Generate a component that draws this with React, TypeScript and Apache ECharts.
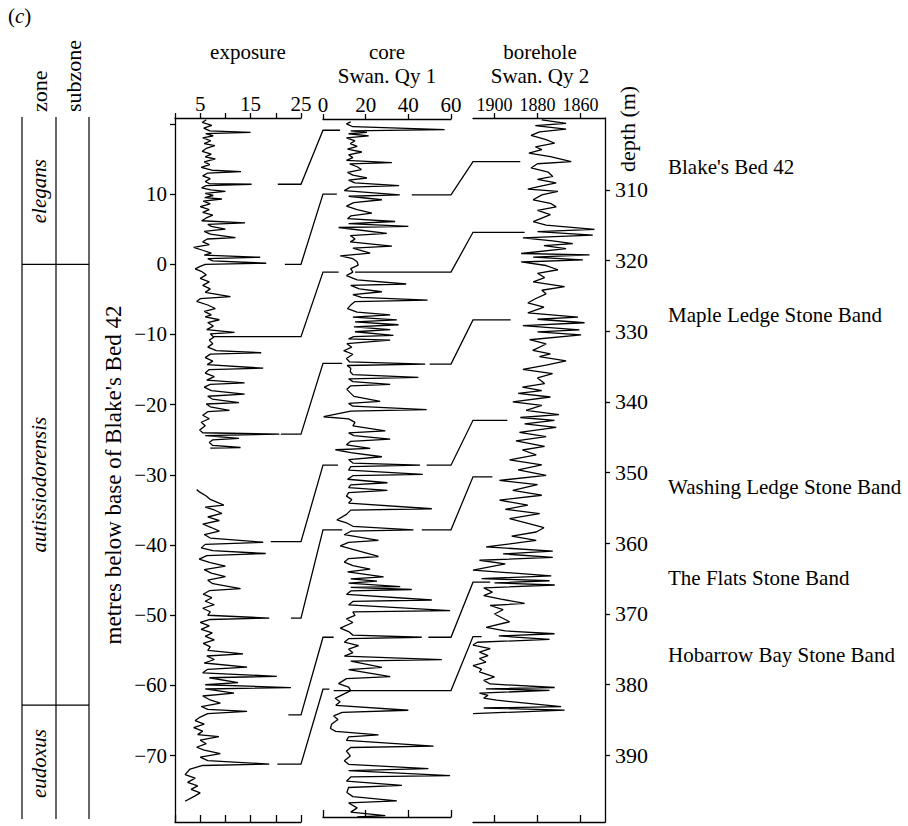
import React, { useEffect, useRef } from 'react';
import * as echarts from 'echarts';

const FONT = '"Liberation Serif", "Times New Roman", serif';
const INK = '#000';

// ---- axis extents (metres below base of Blake's Bed 42 / borehole depth) ----
const metreTop = 20.84;
const metreBottom = -79.45;
const coreMetreTop = 20.7;
const coreMetreBottom = -78.7;
const depthTop = 299.83;
const depthBottom = 399.43;

// ---- tick values ----
const exposureTicks = [0, 5, 10, 15, 20, 25];
const exposureLabels = [5, 15, 25];
const coreTicks = [0, 20, 40, 60];
const boreholeTicks = [1900, 1880, 1860];
const metreTicks = [-70, -60, -50, -40, -30, -20, -10, 0, 10, 20];
const metreLabels = [-70, -60, -50, -40, -30, -20, -10, 0, 10];
const depthTicks = [310, 320, 330, 340, 350, 360, 370, 380, 390];

// ---- exposure log: [value, metres] ----
const exposureUpper: number[][] = [
  [6.2, 20.6], [5.4, 20.2], [7.3, 19.8], [5.7, 19.4], [6.9, 19.0], [15.0, 18.8], [6.1, 18.6], [7.6, 18.3],
  [5.5, 18.0], [7.1, 17.6], [5.8, 17.2], [7.9, 16.9], [6.2, 16.5], [5.4, 16.1], [7.2, 15.7], [6.0, 15.3],
  [8.0, 15.0], [5.8, 14.6], [6.9, 14.2], [5.2, 13.8], [7.3, 13.4], [13.1, 13.2], [6.5, 13.0], [5.5, 12.6],
  [7.0, 12.2], [6.0, 11.8], [6.8, 11.5], [15.2, 11.4], [6.2, 11.2], [5.3, 10.9], [7.1, 10.6], [10.0, 10.4],
  [6.0, 10.1], [7.6, 9.8], [5.9, 9.5], [9.3, 9.3], [5.6, 9.0], [7.0, 8.6], [5.0, 8.2], [6.8, 7.8],
  [5.5, 7.4], [7.5, 7.0], [6.2, 6.6], [5.3, 6.2], [13.9, 5.9], [6.5, 5.7], [7.2, 5.4], [10.0, 5.0],
  [5.8, 4.7], [7.0, 4.3], [12.0, 3.8], [6.4, 3.6], [5.5, 3.2], [6.8, 2.8], [3.7, 2.4], [5.5, 2.0],
  [7.2, 1.6], [5.8, 1.3], [16.9, 1.0], [6.5, 0.8], [7.5, 0.5], [18.1, 0.15], [6.0, 0.0], [5.0, -0.3],
  [4.0, -0.65], [5.2, -1.0], [6.2, -1.5], [5.0, -2.0], [6.8, -2.5], [5.5, -3.0], [7.0, -3.5], [6.0, -4.0],
  [11.0, -4.6], [5.0, -4.9], [4.3, -5.3], [6.5, -5.8], [8.0, -6.3], [5.8, -6.7], [7.2, -7.2], [6.0, -7.5],
  [8.8, -7.9], [6.5, -8.3], [7.6, -8.8], [6.3, -9.3], [11.8, -9.7], [7.0, -9.9], [7.7, -10.4], [6.8, -10.8],
  [7.5, -11.3], [6.5, -11.8], [8.2, -12.3], [17.1, -12.6], [7.0, -12.8], [6.0, -13.3], [7.5, -13.8], [6.4, -14.3],
  [17.5, -14.8], [6.8, -15.0], [6.0, -15.5], [7.8, -16.0], [6.3, -16.5], [13.8, -16.9], [7.0, -17.1], [5.8, -17.5],
  [7.2, -18.0], [13.8, -18.5], [6.5, -18.8], [7.4, -19.2], [12.7, -19.7], [6.2, -19.9], [7.0, -20.3], [10.8, -20.8],
  [6.5, -21.0], [5.5, -21.5], [6.8, -22.0], [5.2, -22.5], [6.0, -23.0], [4.9, -23.6], [5.5, -24.0], [20.7, -24.2],
  [6.0, -24.4], [12.7, -24.8], [7.5, -25.0], [6.8, -25.4], [7.5, -25.8], [13.0, -26.1], [7.0, -26.2],
];

const exposureLower: number[][] = [
  [4.3, -32.1], [5.0, -32.5], [6.2, -33.0], [7.0, -33.5], [9.7, -34.3], [6.0, -34.6], [7.8, -35.0], [9.3, -35.5],
  [6.5, -36.0], [8.8, -36.5], [5.5, -37.0], [7.2, -37.5], [8.8, -38.0], [5.8, -38.5], [7.0, -39.0], [17.5, -39.6],
  [6.0, -39.9], [5.2, -40.4], [7.5, -40.8], [18.0, -41.2], [6.3, -41.5], [4.8, -42.0], [7.0, -42.5], [10.0, -43.0],
  [5.8, -43.5], [7.2, -44.0], [10.0, -44.5], [6.5, -45.0], [7.5, -45.5], [13.0, -46.2], [6.8, -46.5], [5.6, -47.0],
  [7.3, -47.5], [6.0, -48.0], [7.8, -48.5], [5.5, -49.0], [7.0, -49.5], [6.5, -50.0], [18.7, -50.4], [7.0, -50.6],
  [5.0, -51.0], [6.8, -51.5], [5.2, -52.0], [7.4, -52.5], [6.0, -53.0], [7.8, -53.5], [5.6, -54.0], [7.0, -54.5],
  [6.5, -55.0], [13.5, -55.5], [6.3, -55.8], [7.8, -56.3], [5.8, -56.8], [14.3, -57.4], [6.5, -57.7], [5.5, -58.2],
  [20.2, -58.7], [6.8, -58.9], [12.5, -59.6], [6.0, -59.9], [23.0, -60.3], [6.0, -60.5], [11.7, -61.1], [5.5, -61.5],
  [6.8, -62.0], [9.0, -62.5], [5.2, -63.0], [6.5, -63.4], [14.3, -63.7], [6.5, -64.0], [5.0, -64.5], [4.0, -65.0],
  [5.8, -65.5], [3.7, -66.0], [5.5, -66.5], [4.5, -67.0], [8.7, -67.3], [5.0, -67.8], [6.2, -68.3], [4.3, -68.8],
  [5.8, -69.2], [9.0, -69.7], [5.0, -70.2], [6.5, -70.7], [18.7, -71.2], [5.5, -71.4], [3.0, -71.9], [2.0, -72.7],
  [4.0, -73.2], [2.5, -73.8], [4.5, -74.3], [3.2, -74.8], [5.0, -75.3], [3.8, -75.8], [2.0, -76.5],
];

// ---- core Swan. Qy 1: [value, metres] ----
const coreTrace: number[][] = [
  [13, 20.3], [11, 20.0], [14, 19.6], [57, 19.2], [13, 19.0], [20.6, 18.8], [12, 18.6], [21.4, 18.3],
  [11, 18.0], [15, 17.6], [12.8, 17.2], [16, 16.8], [11.5, 16.4], [18.2, 16.0], [12, 15.6], [14, 15.2],
  [11, 14.8], [32.3, 14.5], [12.5, 14.3], [16, 13.9], [18, 13.5], [11.5, 13.1], [14, 12.7], [20.6, 12.3],
  [12, 12.0], [15, 11.6], [35.7, 11.2], [12.8, 11.0], [10, 10.5], [36, 9.9], [12, 9.7], [27.6, 9.2],
  [14.4, 8.8], [11, 8.3], [16, 7.8], [22.9, 7.3], [13, 6.9], [11.5, 6.5], [33.8, 6.1], [12, 5.8],
  [40, 5.4], [7.3, 5.25], [14, 5.0], [29.9, 4.4], [12.8, 4.1], [15, 3.6], [12.8, 3.2], [32.3, 2.6],
  [14, 2.3], [22.1, 1.6], [8.1, 1.2], [14, 0.8], [15.9, 0.4], [16.5, -0.1], [13, -0.6], [14, -1.1],
  [11, -1.6], [16, -2.2], [39, -2.8], [13, -3.0], [17, -3.5], [27.6, -3.9], [14, -4.3], [18, -4.7],
  [49, -5.1], [15, -5.3], [13, -5.8], [11.5, -6.3], [16, -6.8], [31.5, -7.2], [14, -7.5], [34.6, -7.9],
  [15, -8.2], [35.4, -8.6], [14.5, -8.9], [31.5, -9.3], [15, -9.6], [33, -10.1], [14.4, -10.3], [12, -10.6],
  [31.5, -10.8], [11.2, -11.3], [13.5, -11.8], [9.7, -12.3], [14, -12.8], [11, -13.4], [12.5, -13.9], [47.9, -14.2],
  [11.3, -14.4], [13, -14.8], [12.8, -15.3], [14, -15.7], [44.7, -16.1], [12, -16.3], [14, -16.7], [31.5, -17.1],
  [13, -17.3], [11.2, -17.8], [12.8, -18.3], [14.5, -18.8], [26.8, -19.5], [12, -19.8], [14, -20.2], [48.6, -20.7],
  [13, -20.9], [0.3, -21.7], [12, -22.0], [15, -22.5], [14, -23.0], [29.2, -23.7], [12, -24.0], [14.5, -24.4],
  [31.5, -24.9], [13, -25.2], [11, -25.7], [22.1, -26.2], [5.8, -26.4], [13, -26.8], [27.6, -27.4], [12, -27.8],
  [14, -28.3], [45.5, -28.6], [13, -28.8], [12, -29.3], [46.8, -29.9], [14, -30.1], [11.5, -30.6], [30.2, -31.1],
  [13, -31.4], [12, -31.8], [30.2, -32.2], [12, -32.5], [11, -33.0], [13.5, -33.5], [12, -34.0], [51, -34.8],
  [13, -35.0], [11, -35.6], [6.5, -36.4], [11, -36.8], [14, -37.3], [42.4, -37.8], [13, -38.0], [10, -38.5],
  [26, -39.3], [12, -39.6], [8.1, -40.1], [14, -40.6], [26, -41.6], [12, -41.9], [10, -42.4], [14, -42.9],
  [22.1, -43.4], [11.5, -43.8], [28.4, -44.5], [13, -44.8], [25.3, -45.1], [12, -45.4], [36.2, -45.9], [13, -46.0],
  [41.6, -46.3], [13, -46.5], [11, -47.0], [51, -47.8], [14, -48.0], [12, -48.5], [59.6, -49.3], [14, -49.5],
  [15, -50.0], [11, -50.5], [14, -51.0], [8.1, -51.8], [12, -52.3], [14, -52.8], [46.3, -53.1], [12, -53.3],
  [10, -53.8], [16.7, -54.3], [12, -54.8], [14, -55.3], [10, -55.8], [55.7, -56.3], [13, -56.5], [27.6, -57.4],
  [12, -57.7], [31.5, -58.7], [11, -59.0], [7.3, -59.7], [12, -60.2], [13, -60.7], [9, -61.3], [5.7, -61.8],
  [8, -62.3], [6, -62.8], [40, -63.5], [9, -63.8], [5, -64.3], [7, -64.8], [4, -65.5], [3.5, -66.1],
  [6, -66.5], [26, -67.0], [12, -67.3], [11, -67.8], [51.8, -68.6], [13, -68.8], [11, -69.3], [12.8, -70.0],
  [10, -70.7], [12, -71.2], [49.4, -71.8], [12, -72.1], [59.6, -72.8], [13, -73.0], [11, -73.6], [37, -74.2],
  [12, -74.5], [11.2, -75.2], [14, -75.8], [34.6, -76.4], [12, -76.7], [16, -77.4], [13, -78.0], [29.2, -78.5],
  [16, -78.7],
];

// ---- borehole Swan. Qy 2: [value, depth m] ----
const boreholeTrace: number[][] = [
  [1878, 300.1], [1866.7, 300.6], [1881, 300.9], [1866.7, 301.4], [1879, 301.8], [1883, 302.3], [1876, 302.9], [1872, 303.4],
  [1881, 303.9], [1878, 304.3], [1884, 304.8], [1874, 305.3], [1864.3, 306.0], [1880, 306.3], [1883, 306.9], [1875, 307.5],
  [1872.9, 308.1], [1880, 308.5], [1871.3, 309.0], [1879, 309.5], [1884.5, 309.9], [1870.5, 310.2], [1878, 310.7], [1882, 311.4],
  [1874, 311.9], [1871.3, 312.4], [1880, 312.9], [1874, 313.5], [1878, 314.0], [1882, 314.5], [1876, 315.0], [1853.5, 315.6],
  [1880, 315.9], [1854.3, 316.4], [1886.8, 316.8], [1873, 317.2], [1863.6, 317.6], [1877, 317.9], [1866.7, 318.3], [1887.6, 319.0],
  [1855.8, 319.2], [1882, 319.5], [1858.9, 319.9], [1887.6, 320.2], [1876, 320.7], [1870.5, 321.3], [1880, 321.8], [1876.7, 322.4],
  [1882, 323.0], [1867.4, 323.7], [1878, 324.2], [1876, 324.7], [1881, 325.4], [1884.5, 326.0], [1877, 326.6], [1884.5, 327.4],
  [1861.2, 328.0], [1880, 328.3], [1858.1, 328.8], [1886.8, 329.2], [1860.5, 329.8], [1880, 330.1], [1859.7, 330.5], [1883.7, 331.2],
  [1876, 331.8], [1882.2, 332.7], [1874, 333.2], [1879.1, 333.6], [1866.7, 334.2], [1876, 334.8], [1886.8, 335.4], [1873, 336.0],
  [1880, 336.6], [1876.7, 337.4], [1887, 337.9], [1878, 338.4], [1889, 338.8], [1874, 339.3], [1891.5, 340.0], [1878, 340.5],
  [1885.3, 341.2], [1870, 341.8], [1888, 342.2], [1872.1, 342.6], [1886, 343.1], [1871.3, 343.6], [1888.4, 344.3], [1876, 344.9],
  [1890, 345.5], [1876.7, 346.3], [1887, 346.8], [1880.6, 347.5], [1893, 348.2], [1878, 348.9], [1889, 349.6], [1876, 350.4],
  [1897.7, 351.1], [1880, 351.7], [1891.5, 352.5], [1878, 353.2], [1897.7, 353.9], [1884.5, 354.6], [1895, 355.2], [1879, 355.8],
  [1893, 356.5], [1884, 357.2], [1877, 357.8], [1880.6, 358.4], [1892, 359.0], [1880.6, 359.6], [1903.9, 360.5], [1872.9, 361.1],
  [1896, 361.5], [1872.9, 362.0], [1907, 362.4], [1895, 362.9], [1910, 363.8], [1873.6, 364.6], [1906, 365.0], [1874.4, 365.3],
  [1900, 365.6], [1872, 365.9], [1905, 366.3], [1901, 366.9], [1905, 367.4], [1897, 367.9], [1886, 368.5], [1902, 368.8],
  [1896, 369.4], [1900, 370.0], [1893, 371.1], [1903.9, 371.9], [1895, 372.4], [1872.1, 372.8], [1898, 373.1], [1874.4, 373.6],
  [1908, 374.0], [1910, 374.4], [1902, 374.9], [1907, 375.4], [1903, 375.9], [1907, 376.3], [1904, 376.8], [1910, 377.3],
  [1906, 377.8], [1907, 378.2], [1900, 378.9], [1905, 379.4], [1902, 379.9], [1872, 380.4], [1904, 380.6], [1874.4, 380.8],
  [1907, 381.2], [1903, 381.5], [1905, 381.9], [1899, 382.2], [1869, 383.1], [1905, 383.3], [1867.4, 383.6], [1910, 384.1],
];

// ---- correlation lines ----
// exposure -> core: [exposure level, core level, exposure start value, core end value]
const tiesExposureCore: number[][] = [
  [11.4, 19.1, 20.4, 8],
  [0.0, 10.0, 21.8, 6.5],
  [-10.3, -1.1, 7.7, 7.3],
  [-24.2, -14.1, 21, 9],
  [-39.5, -28.6, 19, 7],
  [-50.4, -37.8, 23, 9],
  [-64.2, -53.1, 22.5, 5],
  [-71.2, -60.5, 20.3, 3],
];
// core -> borehole: [core level, borehole depth, core start value, borehole end value]
const tiesCoreBorehole: number[][] = [
  [9.9, 306.0, 41.6, 1888],
  [-1.1, 316.0, 15, 1886],
  [-14.2, 328.4, 50, 1892.5],
  [-28.6, 342.6, 48.6, 1894],
  [-37.8, 350.6, 46.3, 1901],
  [-53.1, 365.5, 49.4, 1902],
  [-60.7, 373.2, 5, 1906],
];

// ---- zones ----
const zoneNames = ['elegans', 'autissiodorensis', 'eudoxus'];
const zoneTops = [metreTop, 0, -62.8];
const zoneBases = [0, -62.8, metreBottom];

// ---- marker beds (borehole depth) ----
const bedNames = ["Blake's Bed 42", 'Maple Ledge Stone Band', 'Washing Ledge Stone Band', 'The Flats Stone Band', 'Hobarrow Bay Stone Band'];
const bedDepths = [306.7, 327.7, 352.0, 364.9, 375.8];

const fmt = (v: number) => (v < 0 ? '\u2212' + Math.abs(v) : String(v));

const lineStyle = { color: INK, width: 1.3 };

function topAxis(grid: number, min: number, max: number, ticks: number[], labels: number[], size: number, inverse = false) {
  return {
    type: 'value', gridIndex: grid, position: 'top', min, max, inverse,
    axisLine: { show: true, onZero: false, lineStyle },
    splitLine: { show: false },
    axisTick: { show: true, inside: false, length: 5, customValues: ticks, lineStyle },
    axisLabel: { show: true, customValues: labels, margin: 4, color: INK, fontFamily: FONT, fontSize: size, formatter: fmt },
  };
}
function bottomAxis(grid: number, min: number, max: number, ticks: number[], inverse = false) {
  return {
    type: 'value', gridIndex: grid, position: 'bottom', min, max, inverse,
    axisLine: { show: true, onZero: false, lineStyle },
    splitLine: { show: false },
    axisTick: { show: true, inside: true, length: 7, customValues: ticks, lineStyle },
    axisLabel: { show: false },
  };
}

const lineSeries = (name: string, x: number, y: number, data: number[][]) => ({
  name, type: 'line', xAxisIndex: x, yAxisIndex: y, data,
  showSymbol: false, symbol: 'none', silent: true,
  lineStyle: { color: INK, width: 1.3 },
});

const gridBase = { containLabel: false, outerBoundsMode: 'none' };

export default function App() {
  const ref = useRef<HTMLDivElement>(null);
  useEffect(() => {
    const chart = echarts.init(ref.current!, undefined, { renderer: 'svg' });
    chart.setOption({
      animation: false,
      backgroundColor: '#fff',
      grid: [
        { ...gridBase, left: 175, top: 118, width: 126, height: 704 },
        { ...gridBase, left: 323, top: 119, width: 128, height: 698 },
        { ...gridBase, left: 473, top: 118, width: 132, height: 704 },
      ],
      xAxis: [
        topAxis(0, 0, 25, exposureTicks, exposureLabels, 21),
        bottomAxis(0, 0, 25, exposureTicks),
        topAxis(1, 0, 60, coreTicks, coreTicks, 21),
        bottomAxis(1, 0, 60, coreTicks),
        topAxis(2, 1848.6, 1910, boreholeTicks, boreholeTicks, 18, true),
        bottomAxis(2, 1848.6, 1910, boreholeTicks, true),
      ],
      yAxis: [
        {
          type: 'value', gridIndex: 0, position: 'left', min: metreBottom, max: metreTop,
          axisLine: { show: true, onZero: false, lineStyle },
          splitLine: { show: false },
          axisTick: { show: true, inside: false, length: 5, customValues: metreTicks, lineStyle },
          axisLabel: { show: true, customValues: metreLabels, margin: 8, color: INK, fontFamily: FONT, fontSize: 21, formatter: fmt },
        },
        { type: 'value', gridIndex: 1, min: coreMetreBottom, max: coreMetreTop, show: false },
        {
          type: 'value', gridIndex: 2, position: 'right', min: depthTop, max: depthBottom, inverse: true,
          axisLine: { show: true, onZero: false, lineStyle },
          splitLine: { show: false },
          axisTick: { show: true, inside: false, length: 5, customValues: depthTicks, lineStyle },
          axisLabel: { show: true, customValues: depthTicks, margin: 10, color: INK, fontFamily: FONT, fontSize: 22, formatter: fmt },
        },
      ],
      series: [
        lineSeries('exposure', 0, 0, exposureUpper),
        lineSeries('exposure lower', 0, 0, exposureLower),
        lineSeries('core', 2, 1, coreTrace),
        lineSeries('borehole', 4, 2, boreholeTrace),
      ],
    });

    const toPx = (seriesIndex: number, p: number[]) => chart.convertToPixel({ seriesIndex }, p) as number[];
    const EXP = 0, CORE = 2, BORE = 3;

    const txt = (text: string, x: number, y: number, opts: any = {}) => ({
      type: 'text', x, y, rotation: opts.rotation || 0, silent: true, z: 20,
      style: {
        text, fill: INK, fontFamily: FONT, fontSize: opts.size || 21, fontStyle: opts.italic ? 'italic' : 'normal',
        align: opts.align || 'center', verticalAlign: opts.vAlign || 'middle',
      },
    });
    const seg = (x1: number, y1: number, x2: number, y2: number) => ({
      type: 'line', silent: true, z: 20, shape: { x1, y1, x2, y2 }, style: { stroke: INK, lineWidth: 1.2 },
    });
    const poly = (points: number[][]) => ({
      type: 'polyline', silent: true, z: 15, shape: { points }, style: { stroke: INK, lineWidth: 1.3, fill: null },
    });

    const graphics: any[] = [];

    // correlation lines
    tiesExposureCore.forEach(([eL, cL, eStart, cEnd]) => {
      graphics.push(poly([
        toPx(EXP, [eStart, eL]), toPx(EXP, [25, eL]), toPx(CORE, [0, cL]), toPx(CORE, [cEnd, cL]),
      ]));
    });
    tiesCoreBorehole.forEach(([cL, bD, cStart, bEnd]) => {
      graphics.push(poly([
        toPx(CORE, [cStart, cL]), toPx(CORE, [60, cL]), toPx(BORE, [1910, bD]), toPx(BORE, [bEnd, bD]),
      ]));
    });

    // zone / subzone columns
    const colX = [22, 56, 89];
    colX.forEach((x) => graphics.push(seg(x, 117, x, 819)));
    zoneBases.slice(0, -1).forEach((m) => {
      const y = toPx(EXP, [0, m])[1];
      graphics.push(seg(colX[0], y, colX[2], y));
    });
    zoneNames.forEach((name, i) => {
      const yTop = toPx(EXP, [0, zoneTops[i]])[1];
      const yBase = toPx(EXP, [0, zoneBases[i]])[1];
      graphics.push(txt(name, 39, (yTop + yBase) / 2, { italic: true, rotation: Math.PI / 2, size: 21 }));
    });
    graphics.push(txt('zone', 39, 112, { rotation: Math.PI / 2, align: 'left', size: 22 }));
    graphics.push(txt('subzone', 73, 112, { rotation: Math.PI / 2, align: 'left', size: 22 }));

    // axis titles
    graphics.push(txt("metres below base of Blake's Bed 42", 113, 475, { rotation: Math.PI / 2, size: 23 }));
    graphics.push(txt('depth (m)', 627, 172, { rotation: Math.PI / 2, align: 'left', size: 22 }));

    // panel headings
    graphics.push(txt('exposure', 248, 52, { size: 21 }));
    graphics.push(txt('core', 387, 52, { size: 21 }));
    graphics.push(txt('Swan. Qy 1', 387, 76, { size: 21 }));
    graphics.push(txt('borehole', 540, 52, { size: 21 }));
    graphics.push(txt('Swan. Qy 2', 540, 76, { size: 21 }));

    // panel letter
    graphics.push({
      type: 'text', x: 8, y: 16, silent: true, z: 20,
      style: {
        text: '{n|(}{i|c}{n|)}', align: 'left', verticalAlign: 'middle',
        rich: {
          n: { fontFamily: FONT, fontSize: 21, fill: INK },
          i: { fontFamily: FONT, fontSize: 21, fill: INK, fontStyle: 'italic' },
        },
      },
    });

    // marker bed names
    bedNames.forEach((name, i) => {
      const y = toPx(BORE, [1910, bedDepths[i]])[1];
      graphics.push(txt(name, 668, y, { align: 'left', size: 21 }));
    });

    chart.setOption({ graphic: graphics });
    return () => chart.dispose();
  }, []);

  return <div ref={ref} style={{ position: 'absolute', left: 0, top: 0, width: 908, height: 826 }} />;
}
